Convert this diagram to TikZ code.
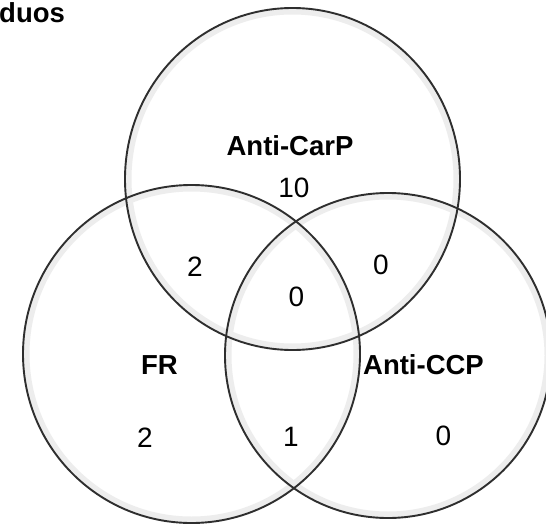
\documentclass[tikz,border=0pt]{standalone}
\usepackage{fontspec}
\setmainfont{Liberation Sans}
\begin{document}
\begin{tikzpicture}[x=1pt,y=-1pt,
  setline/.style={draw=black!82,line width=1.9pt},
  rim/.style={draw=black!7,line width=6pt},
  setlabel/.style={font=\fontsize{27.5}{27.5}\selectfont\bfseries,inner sep=0pt},
  countlabel/.style={font=\fontsize{28}{28}\selectfont,inner sep=0pt}]
\useasboundingbox (0,0) rectangle (546,527);
\clip (0,0) rectangle (546,527);
\fill[white] (0,0) rectangle (546,527);
% soft inner rims
\draw[rim] (292.5,179) ellipse [x radius=164, y radius=167.5];
\draw[rim] (191.5,354) ellipse [x radius=165, y radius=165.5];
\draw[rim] (388,355.5) ellipse [x radius=159.5, y radius=159];
% set outlines
\draw[setline] (292.5,179) ellipse [x radius=167.5, y radius=171];
\draw[setline] (191.5,354) ellipse [x radius=168.5, y radius=169];
\draw[setline] (388,355.5) ellipse [x radius=163, y radius=162.5];
% title fragment
\node[setlabel,anchor=base west] (title) at (-1,23) {duos};
% set names
\node[setlabel] (carp) at (290,146) {Anti-CarP};
\node[setlabel] (fr) at (159.5,365) {FR};
\node[setlabel] (ccp) at (423.5,365) {Anti-CCP};
% counts
\node[countlabel] (n10) at (294,188) {10};
\node[countlabel] (nfc) at (195,267) {2};
\node[countlabel] (nall) at (296.5,297) {0};
\node[countlabel] (ncc) at (381,265) {0};
\node[countlabel] (nf) at (145,438) {2};
\node[countlabel] (nfccp) at (291,437) {1};
\node[countlabel] (nccp) at (443.5,436) {0};
\end{tikzpicture}
\end{document}
